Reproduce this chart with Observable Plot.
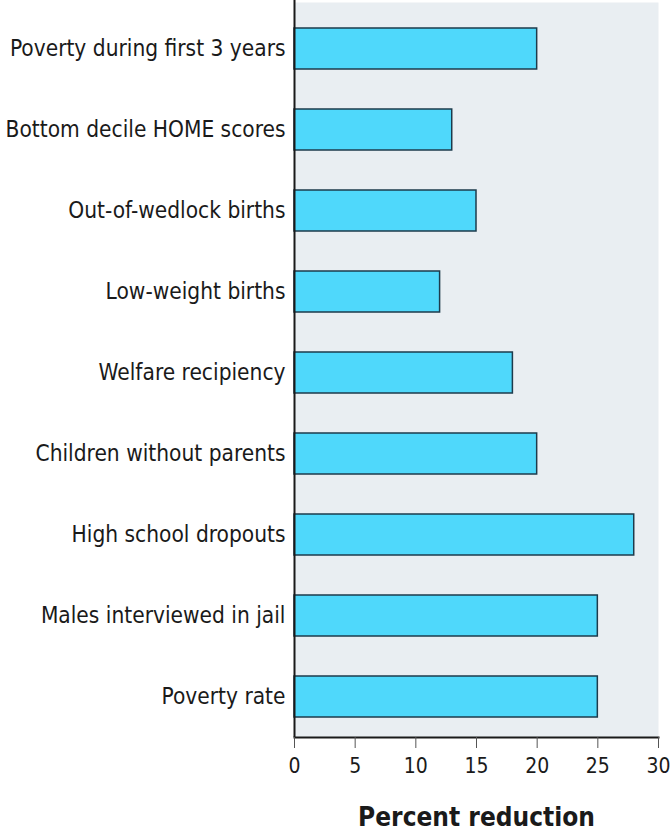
<!DOCTYPE html>
<html>
<head>
<meta charset="utf-8">
<script src="https://cdn.jsdelivr.net/npm/d3@7"></script>
<script src="https://cdn.jsdelivr.net/npm/@observablehq/plot@0.6"></script>
<style>
  html, body { margin: 0; padding: 0; background: #fff; }
  #chart svg { display: block; }
  g[aria-label="x-axis label"] text { font-size: 26px; font-weight: bold; fill: #1a1a1a; }
</style>
</head>
<body>
<div id="chart"></div>
<script>
const categories = [
  "Poverty during first 3 years",
  "Bottom decile HOME scores",
  "Out-of-wedlock births",
  "Low-weight births",
  "Welfare recipiency",
  "Children without parents",
  "High school dropouts",
  "Males interviewed in jail",
  "Poverty rate"
];
const reductions = [20, 13, 15, 12, 18, 20, 28, 25, 25];
const xTicks = [0, 5, 10, 15, 20, 25, 30];
const xLabel = "Percent reduction";

const data = categories.map((c, i) => ({category: c, value: reductions[i]}));

const narrow = "'Liberation Sans Narrow', 'Arial Narrow', 'DejaVu Sans Condensed', sans-serif";

const chart = Plot.plot({
  width: 671,
  height: 834,
  marginLeft: 294,
  marginRight: 13,
  marginTop: 2,
  marginBottom: 97,
  style: {fontFamily: narrow, color: "#1a1a1a", background: "#fff"},
  x: {domain: [0, 30]},
  y: {domain: categories, paddingInner: 0.5, paddingOuter: 0.27, align: 0.55},
  marks: [
    Plot.frame({fill: "#e9eef2", stroke: null}),
    Plot.barX(data, {x: "value", y: "category", fill: "#4fd8fb", stroke: "#1d3b4c", strokeWidth: 1.5}),
    Plot.frame({anchor: "bottom", stroke: "#1a1a1a", strokeWidth: 2}),
    Plot.ruleX([0], {stroke: "#1a1a1a", strokeWidth: 2, insetTop: -2}),
    Plot.axisY({tickSize: 0, tickPadding: 9, fontSize: 22.5, label: null, fill: "#1a1a1a"}),
    Plot.axisX({ticks: xTicks, tickSize: 11, tickPadding: 10, fontSize: 21, stroke: "#555", fill: "#1a1a1a",
      label: xLabel, labelAnchor: "center", labelOffset: 88, labelArrow: "none"})
  ]
});
document.getElementById("chart").appendChild(chart);
</script>
</body>
</html>
